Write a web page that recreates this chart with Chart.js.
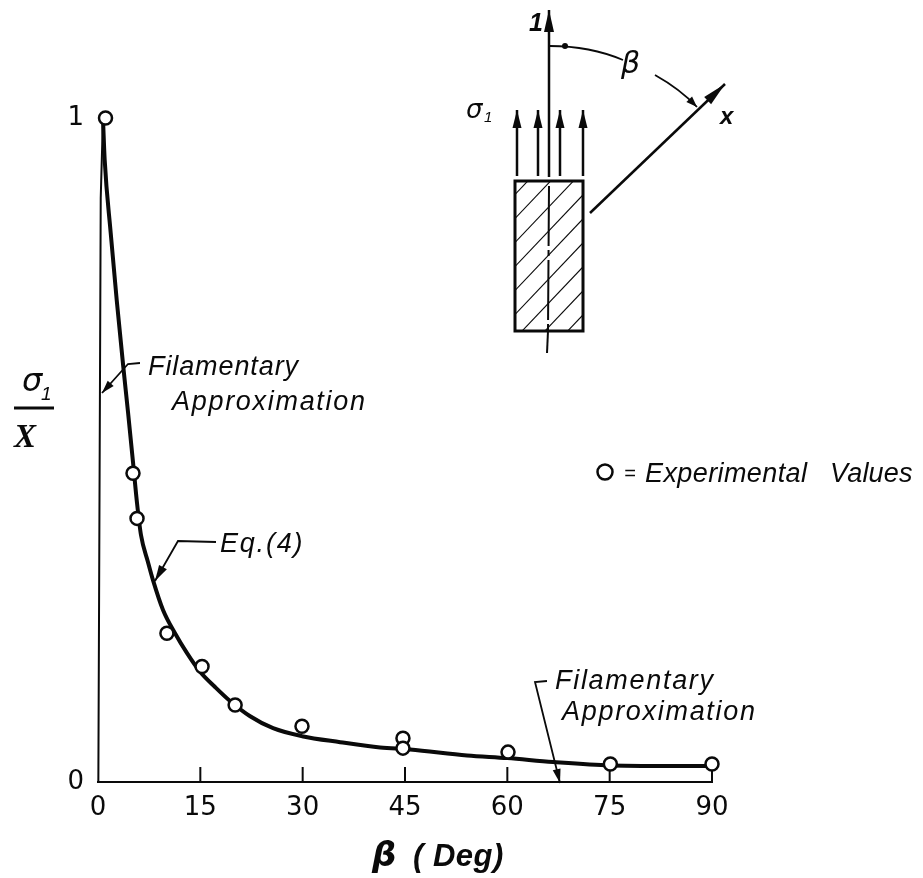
<!DOCTYPE html>
<html>
<head>
<meta charset="utf-8">
<style>html,body{margin:0;padding:0;background:#fff}canvas{display:block}</style>
<script src="https://cdn.jsdelivr.net/npm/chart.js@4"></script>
</head>
<body>
<canvas id="c" width="923" height="878"></canvas>
<script>
const curveBeta = [0.75,0.98,1.86,2.74,3.71,4.40,5.13,5.72,6.30,7.33,8.06,9.53,11.29,13.05,14.96,17.16,19.35,22.3,25.66,29.9,35.5,41.35,45.75,54.1,60,66.7,75.1,89.7];
const curveRatio = [0.994,0.937,0.827,0.726,0.625,0.557,0.482,0.420,0.372,0.331,0.304,0.259,0.224,0.194,0.166,0.143,0.122,0.099,0.081,0.069,0.060,0.052,0.049,0.040,0.036,0.030,0.025,0.024];
const expBeta = [1.1,5.13,5.72,10.1,15.25,20.1,29.9,44.7,44.7,60.1,75.1,90];
const expRatio = [1.0,0.465,0.397,0.224,0.174,0.116,0.084,0.066,0.051,0.045,0.027,0.027];
const filamentBeta = [0.05,0.4,0.7];
const filamentRatio = [0,0.88,0.99];
const xTickStep = 15;
const yTickStep = 1;

const INK = '#0a0a0a';
const zip = (a,b)=>a.map((v,i)=>({x:v,y:b[i]}));
const LETTER = '"Liberation Sans"';

function label(ctx,str,x,y,size,spacing,style,family){
  ctx.save();
  ctx.font=(style||'italic')+' '+size+'px '+(family||LETTER);
  ctx.letterSpacing=(spacing||0)+'px';
  ctx.fillStyle=INK;ctx.textAlign='left';ctx.textBaseline='alphabetic';
  ctx.fillText(str,x,y);
  ctx.restore();
}
function path(ctx,pts,w){
  ctx.beginPath();ctx.lineWidth=w;ctx.strokeStyle=INK;
  pts.forEach((p,i)=>i?ctx.lineTo(p[0],p[1]):ctx.moveTo(p[0],p[1]));
  ctx.stroke();
}
function head(ctx,fx,fy,tx,ty,len,hw){
  const a=Math.atan2(ty-fy,tx-fx),c=Math.cos(a),s=Math.sin(a);
  ctx.beginPath();ctx.fillStyle=INK;
  ctx.moveTo(tx,ty);
  ctx.lineTo(tx-len*c-hw*s,ty-len*s+hw*c);
  ctx.lineTo(tx-len*c+hw*s,ty-len*s-hw*c);
  ctx.closePath();ctx.fill();
}
function arrowLine(ctx,pts,w,len,hw){
  path(ctx,pts,w);
  const n=pts.length;
  head(ctx,pts[n-2][0],pts[n-2][1],pts[n-1][0],pts[n-1][1],len,hw);
}

const innerTicks = {
  id:'innerTicks',
  beforeDatasetsDraw(chart){
    const ctx=chart.ctx,s=chart.scales.x,y0=chart.scales.y.getPixelForValue(0);
    ctx.save();ctx.strokeStyle=INK;ctx.lineWidth=2;
    s.ticks.forEach(t=>{
      if(t.value===0)return;
      const p=s.getPixelForValue(t.value);
      ctx.beginPath();ctx.moveTo(p,y0);ctx.lineTo(p,y0-15);ctx.stroke();
    });
    ctx.restore();
  }
};

const notes = {
  id:'notes',
  afterDatasetsDraw(chart){
    const ctx=chart.ctx;
    ctx.save();
    // y axis title
    label(ctx,'σ',22,391,32,0,'italic','"DejaVu Sans"');
    label(ctx,'1',41,400,19,0);
    path(ctx,[[14,408],[54,408]],3);
    label(ctx,'X',14,447,33,0,'italic bold','"Liberation Serif"');
    // x axis title
    label(ctx,'β',372,866,34,0,'italic bold','"DejaVu Sans"');
    label(ctx,'( Deg)',413,866,31,0.5,'italic bold');
    // notes on the curve
    label(ctx,'Filamentary',148,375,27,0.9);
    label(ctx,'Approximation',172,410,27,1.7);
    arrowLine(ctx,[[140,363],[128,364],[102,393]],1.8,13,4);
    label(ctx,'Eq.(4)',220,552,27,1.8);
    arrowLine(ctx,[[216,542],[178,541],[155,581]],1.8,16,4.5);
    label(ctx,'Filamentary',555,689,27,1.7);
    label(ctx,'Approximation',562,720,27,1.7);
    arrowLine(ctx,[[547,681],[535,682],[560,783]],1.8,14,4);
    // key
    ctx.beginPath();ctx.lineWidth=2.5;ctx.strokeStyle=INK;ctx.arc(605,472,7.5,0,Math.PI*2);ctx.stroke();
    label(ctx,'=',624,480,20,0);
    label(ctx,'Experimental',645,482,27,0.4);
    label(ctx,'Values',830,482,27,0.2);
    // inset: specimen
    ctx.save();
    ctx.beginPath();ctx.rect(515,181,68,150);ctx.clip();
    ctx.lineWidth=1.1;ctx.strokeStyle=INK;
    for(let k=0;k<10;k++){
      const b=205+k*24;
      ctx.beginPath();ctx.moveTo(505,b);ctx.lineTo(600,b-100);ctx.stroke();
    }
    ctx.restore();
    ctx.lineWidth=3;ctx.strokeStyle=INK;ctx.strokeRect(515,181,68,150);
    // inset: axis
    arrowLine(ctx,[[549,177],[549,10]],2.5,22,5);
    ctx.save();ctx.setLineDash([60,4,6,4]);
    path(ctx,[[549,186],[548,331]],2);
    ctx.restore();
    path(ctx,[[548,331],[547,353]],2);
    [517,538,560,583].forEach(x=>arrowLine(ctx,[[x,176],[x,110]],2.5,18,4.5));
    arrowLine(ctx,[[590,213],[725,84]],2.5,24,5);
    // inset: angle
    ctx.beginPath();ctx.lineWidth=1.8;ctx.strokeStyle=INK;ctx.moveTo(550,46);ctx.quadraticCurveTo(590,46,623,60);ctx.stroke();
    ctx.beginPath();ctx.fillStyle=INK;ctx.arc(565,46,3,0,Math.PI*2);ctx.fill();
    ctx.beginPath();ctx.lineWidth=1.8;ctx.moveTo(655,75);ctx.quadraticCurveTo(680,89,697,107);ctx.stroke();
    head(ctx,683,93,697,107,11,4);
    label(ctx,'β',621,73,30,0,'italic','"DejaVu Sans"');
    label(ctx,'x',720,124,24,0,'italic bold');
    label(ctx,'σ',466,118,26,0,'italic','"DejaVu Sans"');
    label(ctx,'1',484,122,15,0);
    label(ctx,'1',529,31,25,0,'italic bold');
    ctx.restore();
  }
};

new Chart(document.getElementById('c').getContext('2d'),{
  type:'scatter',
  data:{datasets:[
    {label:'Experimental Values',data:zip(expBeta,expRatio),showLine:false,pointRadius:6.5,pointBorderWidth:2.5,
     pointBackgroundColor:'#fff',pointBorderColor:INK,clip:false,order:1},
    {label:'Eq.(4)',data:zip(curveBeta,curveRatio),showLine:true,borderColor:INK,borderWidth:4,pointRadius:0,
     cubicInterpolationMode:'monotone',clip:false,order:2},
    {label:'Filamentary Approximation',data:zip(filamentBeta,filamentRatio),showLine:true,borderColor:INK,borderWidth:2,
     pointRadius:0,clip:false,order:3}
  ]},
  options:{
    responsive:false,animation:false,
    layout:{padding:{top:118,right:211,left:0,bottom:0}},
    plugins:{legend:{display:false},tooltip:{enabled:false}},
    scales:{
      x:{type:'linear',min:0,max:90,
        afterFit(s){s.height=96;},
        grid:{display:false,drawTicks:false},
        border:{display:true,color:INK,width:2},
        ticks:{stepSize:xTickStep,color:INK,padding:11,maxRotation:0,font:{family:'"DejaVu Sans"',size:26}}},
      y:{type:'linear',min:0,max:1,
        afterFit(s){s.width=98;},
        grid:{display:false,drawTicks:false},
        border:{display:false},
        ticks:{stepSize:yTickStep,color:INK,padding:14,font:{family:'"DejaVu Sans"',size:26}}}
    }
  },
  plugins:[innerTicks,notes]
});
</script>
</body>
</html>
